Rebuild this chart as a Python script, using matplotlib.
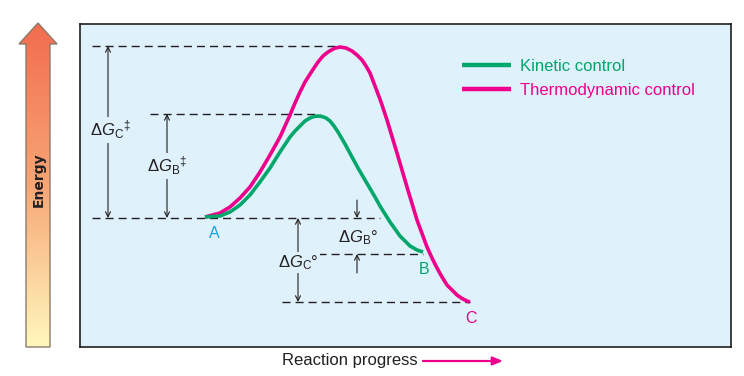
import numpy as np
import matplotlib
matplotlib.use('Agg')
import matplotlib.pyplot as plt
from matplotlib.patches import Polygon, FancyArrowPatch
from matplotlib.colors import LinearSegmentedColormap

plt.rcParams['font.family'] = ['Liberation Sans', 'DejaVu Sans']
plt.rcParams['mathtext.fontset'] = 'custom'
plt.rcParams['mathtext.rm'] = 'Liberation Sans'
plt.rcParams['mathtext.it'] = 'Liberation Sans:italic'
plt.rcParams['mathtext.bf'] = 'Liberation Sans:bold'

# ---------------- data (reaction progress, energy; arbitrary units) ----------------
kinetic_x = [125, 132, 140, 150, 160, 170, 180, 190, 200, 210, 215, 220, 225, 230, 234,
             238, 242, 246, 250, 254, 258, 265, 272, 278, 285, 295, 300, 310, 320, 330,
             337, 343]
kinetic_E = [130, 130.5, 131, 135, 142, 152, 165, 179, 195, 210, 216, 221, 226, 229, 230.5,
             231, 230.5, 229, 226, 221, 215, 203, 190, 179, 167, 150, 141, 125, 111, 101,
             97, 95]
thermo_x = [125, 140, 150, 160, 170, 180, 190, 200, 210, 215, 220, 225, 232, 238, 243,
            248, 254, 260, 266, 272, 277, 282, 286, 290, 295, 301, 307, 317, 327, 337,
            347, 352, 357, 362, 367, 372, 377, 382, 387, 390]
thermo_E = [130, 134, 140, 149, 160, 175, 192, 210, 232, 244, 255, 265, 276, 285, 291,
            295, 298.5, 300, 299, 296, 292, 287, 281, 274, 261, 245, 227, 194, 160, 127,
            100, 89, 79, 70, 62, 57, 52, 48.5, 46, 45]

E_A, E_TS_B, E_TS_C, E_B, E_C = 129, 233, 301, 93, 45
series_labels = ['Kinetic control', 'Thermodynamic control']
point_labels = ['A', 'B', 'C']
x_label = 'Reaction progress'
y_label = 'Energy'

# ---------------- style ----------------
BG = '#dff1fb'
GREEN = '#00a66a'
PINK = '#ec008c'
BLUE = '#1ba1e2'
INK = '#231f20'

fig = plt.figure(figsize=(7.44, 3.76), dpi=100)

ax = fig.add_axes([80 / 744, 29 / 376, 651 / 744, 323 / 376])
ax.set_xlim(0, 651)
ax.set_ylim(0, 323)
ax.set_facecolor(BG)
ax.set_xticks([])
ax.set_yticks([])
for s in ax.spines.values():
    s.set_linewidth(1.2)
    s.set_color(INK)

# curves
l_t, = ax.plot(thermo_x, thermo_E, color=PINK, lw=2.6, solid_capstyle='butt',
               solid_joinstyle='round', label=series_labels[1], zorder=3)
l_k, = ax.plot(kinetic_x, kinetic_E, color=GREEN, lw=2.6, solid_capstyle='butt',
               solid_joinstyle='round', label=series_labels[0], zorder=4)

# dashed level lines
dash = (0, (5.8, 3.6))
ax.hlines(E_TS_C, 12, 260, colors=INK, linestyles=dash, lw=1, zorder=2)
ax.hlines(E_TS_B, 70, 240, colors=INK, linestyles=dash, lw=1, zorder=2)
ax.hlines(E_A, 12, 300, colors=INK, linestyles=dash, lw=1, zorder=2)
ax.hlines(E_B, 238, 343, colors=INK, linestyles=dash, lw=1, zorder=2)
ax.hlines(E_C, 202, 390, colors=INK, linestyles=dash, lw=1, zorder=2)

def varrow(x, e1, e2, style='<->'):
    a = FancyArrowPatch((x, e1), (x, e2),
                        arrowstyle=style + ',head_length=3.6,head_width=1.8',
                        mutation_scale=1, lw=0.8, color=INK,
                        shrinkA=0, shrinkB=0, zorder=2)
    ax.add_patch(a)

varrow(28, E_A, E_TS_C)
varrow(87, E_A, E_TS_B)
varrow(218, E_A, E_C)
varrow(277, 147, E_A, '->')
varrow(277, 74, E_B, '->')

lbl_kw = dict(fontsize=12, color=INK, ha='left', va='baseline', zorder=5,
              bbox=dict(facecolor=BG, edgecolor='none', pad=1))
ax.text(10, 211, r'$\mathrm{\Delta}\mathit{G}_{\mathrm{C}}{}^{\ddagger}$', **lbl_kw)
ax.text(67, 175, r'$\mathrm{\Delta}\mathit{G}_{\mathrm{B}}{}^{\ddagger}$', **lbl_kw)
ax.text(258, 105, r'$\mathrm{\Delta}\mathit{G}_{\mathrm{B}}$°', **lbl_kw)
ax.text(198, 80, r'$\mathrm{\Delta}\mathit{G}_{\mathrm{C}}$°', **lbl_kw)

ax.text(134, 109, point_labels[0], color=BLUE, fontsize=11.5, ha='center', va='baseline')
ax.text(344, 73, point_labels[1], color=GREEN, fontsize=11.5, ha='center', va='baseline')
ax.text(391, 24, point_labels[2], color=PINK, fontsize=11.5, ha='center', va='baseline')

leg = ax.legend(handles=[l_k, l_t], loc='upper left', bbox_to_anchor=(382 / 651, 0.893),
                frameon=False, fontsize=12, handlelength=2.95, handletextpad=0.55,
                labelspacing=0.55, borderpad=0, borderaxespad=0, labelcolor='linecolor')
for h in leg.legend_handles:
    h.set_linewidth(3.2)

# ---------------- overlay (pixel coords) ----------------
ov = fig.add_axes([0, 0, 1, 1], facecolor='none')
ov.axis('off')

arrow_pts = [(26, 347), (26, 44), (19, 44), (38, 23), (57, 44), (50, 44), (50, 347)]
cmap = LinearSegmentedColormap.from_list('energy', ['#f26c4f', '#f7a676', '#fff8bd'])
grad = np.linspace(0, 1, 256).reshape(-1, 1)
im = ov.imshow(grad, extent=(19, 57, 347, 23), aspect='auto', cmap=cmap, zorder=1)
clip = Polygon(arrow_pts, closed=True, transform=ov.transData, facecolor='none',
               edgecolor='none')
ov.add_patch(clip)
im.set_clip_path(clip)
ov.add_patch(Polygon(arrow_pts, closed=True, facecolor='none', edgecolor='#8c7b6b',
                     lw=1, zorder=2))
ov.set_xlim(0, 744)
ov.set_ylim(376, 0)

ov.text(38.5, 180, y_label, rotation=90, ha='center', va='center', fontsize=10,
        fontweight='bold', family='DejaVu Sans', color=INK, zorder=3)

ov.text(350, 365, x_label, ha='center', va='baseline', fontsize=12, color=INK)
ov.annotate('', xy=(503, 361), xytext=(423, 361),
            arrowprops=dict(arrowstyle='-|>,head_length=0.6,head_width=0.25',
                            color=PINK, lw=1.6, shrinkA=0, shrinkB=0))

fig.savefig('out.png', dpi=100)
